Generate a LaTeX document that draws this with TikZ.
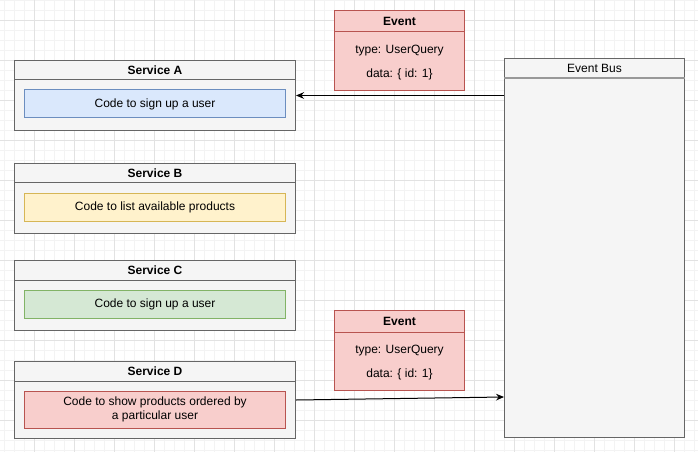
\documentclass[tikz,border=0pt]{standalone}
\usepackage{fontspec}
\setmainfont{Liberation Sans}
\usepackage{xcolor}
\usepackage{tikz}
\usetikzlibrary{
  positioning,
  calc,
  arrows.meta
}

\definecolor{boxfill}{HTML}{F5F5F5}
\definecolor{boxline}{HTML}{666666}
\definecolor{busline}{HTML}{999999}
\definecolor{bluefill}{HTML}{DAE8FC}
\definecolor{blueline}{HTML}{6C8EBF}
\definecolor{yellowfill}{HTML}{FFF2CC}
\definecolor{yellowline}{HTML}{D6B656}
\definecolor{greenfill}{HTML}{D5E8D4}
\definecolor{greenline}{HTML}{82B366}
\definecolor{redfill}{HTML}{F8CECC}
\definecolor{redline}{HTML}{B85450}
\definecolor{gridminor}{HTML}{F3F3F3}
\definecolor{gridmajor}{HTML}{E2E2E2}

\tikzset{
  panel/.style={draw=boxline,fill=boxfill,anchor=north west,inner sep=0pt,minimum width=210.75pt},
  codebox/.style={inner sep=0pt,minimum width=195.75pt,align=center},
  codeblue/.style={draw=blueline,fill=bluefill},
  codeyellow/.style={draw=yellowline,fill=yellowfill},
  codegreen/.style={draw=greenline,fill=greenfill},
  codered/.style={draw=redline,fill=redfill},
  eventbox/.style={draw=redline,fill=redfill,anchor=north west,inner sep=0pt,minimum width=97.5pt,minimum height=60pt},
  svctitle/.style={font=\fontsize{9}{10.5}\selectfont\bfseries},
  arrow/.style={-{Stealth[length=6pt,width=5pt]},black}
}

\begin{document}
\begin{tikzpicture}[x=0.75pt,y=-0.75pt,line width=0.75pt,font=\fontsize{9}{10.5}\selectfont]
  \useasboundingbox (0,0) rectangle (698,452);

  % 背景のグリッド
  \foreach \gx in {4.5,14.5,...,698} \draw[gridminor] (\gx,0) -- (\gx,452);
  \foreach \gy in {0.5,10.5,...,452} \draw[gridminor] (0,\gy) -- (698,\gy);
  \foreach \gx in {34.5,74.5,...,698} \draw[gridmajor] (\gx,0) -- (\gx,452);
  \foreach \gy in {20.5,60.5,...,452} \draw[gridmajor] (0,\gy) -- (698,\gy);

  % サービス
  \foreach \name/\top/\h/\ih/\sty/\txt in {
    A/60/70/28/codeblue/{Code to sign up a user},
    B/163/70/28/codeyellow/{Code to list available products},
    C/260/70/28/codegreen/{Code to sign up a user},
    D/361/77/37/codered/{Code to show products ordered by\\a particular user}}
  {
    \pgfmathsetmacro{\hh}{\h*0.75}
    \pgfmathsetmacro{\ihh}{\ih*0.75}
    \pgfmathsetmacro{\cy}{30+\ih/2}
    \node[panel,minimum height=\hh pt] (svc\name) at (14,\top) {};
    \draw[boxline] ($(svc\name.north west)+(0,20)$) -- ($(svc\name.north east)+(0,20)$);
    \node[svctitle] (title\name) at ($(svc\name.north)+(0,10)$) {Service \name};
    \node[codebox,\sty,minimum height=\ihh pt] (code\name) at ($(svc\name.north)+(0,\cy)$) {\txt};
  }

  % イベント
  \foreach \ev/\top in {1/10,2/310} {
    \node[eventbox] (event\ev) at (334,\top) {};
    \draw[redline] ($(event\ev.north west)+(0,22)$) -- ($(event\ev.north east)+(0,22)$);
    \node[svctitle] (evtitle\ev) at ($(event\ev.north)+(0,11)$) {Event};
    \node (evtype\ev) at ($(event\ev.north)+(0,41)$) {type: UserQuery};
    \node (evdata\ev) at ($(event\ev.north)+(0,64)$) {data: \{ id: 1\}};
  }

  % イベントバス
  \node[panel,minimum width=135pt,minimum height=284.25pt] (bus) at (504,58) {};
  \draw[busline,line width=1.5pt] ($(bus.north west)+(0,20)$) -- ($(bus.north east)+(0,20)$);
  \node (bustitle) at ($(bus.north)+(0,10)$) {Event Bus};

  % 矢印
  \coordinate (busin) at ($(bus.north west)+(0,339)$);
  \draw[arrow] (bus.west |- svcA.east) -- (svcA.east);
  \draw[arrow] (svcD.east) -- (busin);
\end{tikzpicture}
\end{document}
